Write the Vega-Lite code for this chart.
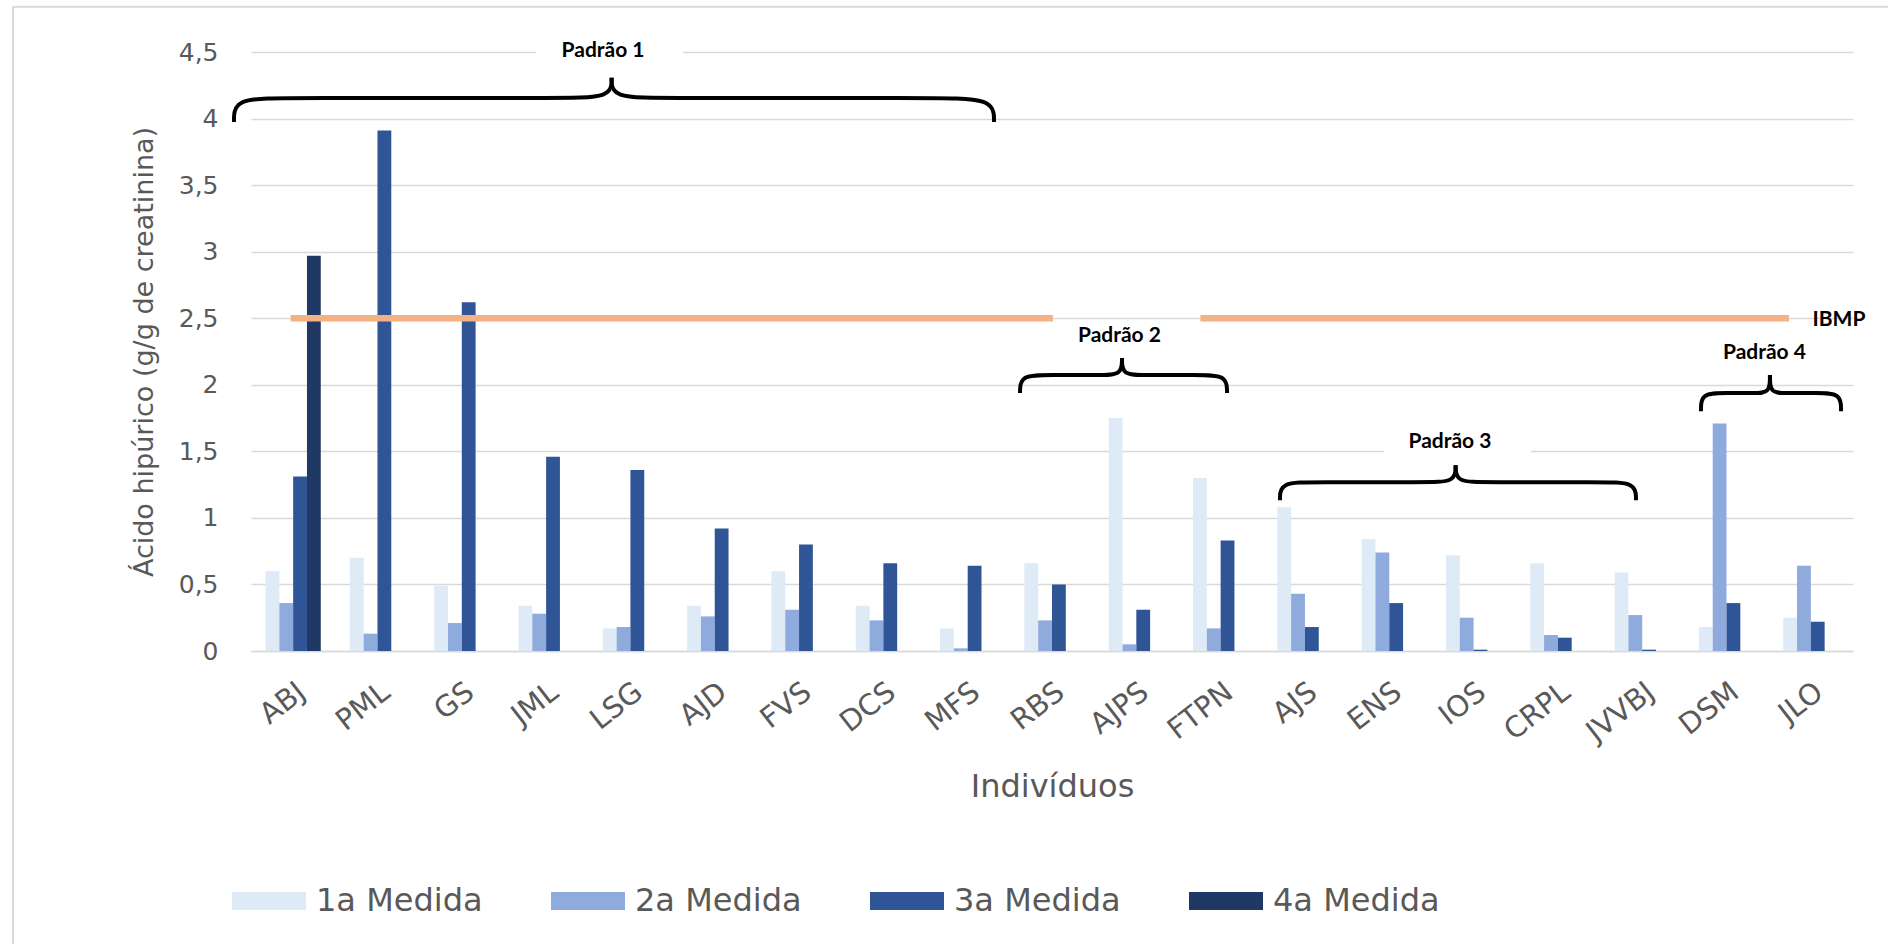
{
  "$schema": "https://vega.github.io/schema/vega-lite/v6.json",
  "autosize": {"type": "none"},
  "width": 1602,
  "height": 599,
  "padding": {"left": 251, "top": 52, "right": 35, "bottom": 293},
  "background": "white",
  "config": {
    "view": {"stroke": null},
    "font": "DejaVu Sans"
  },
  "datasets": {
    "bars": [
      {"ind": "ABJ", "medida": "1a Medida", "valor": 0.60},
      {"ind": "ABJ", "medida": "2a Medida", "valor": 0.36},
      {"ind": "ABJ", "medida": "3a Medida", "valor": 1.31},
      {"ind": "ABJ", "medida": "4a Medida", "valor": 2.97},
      {"ind": "PML", "medida": "1a Medida", "valor": 0.70},
      {"ind": "PML", "medida": "2a Medida", "valor": 0.13},
      {"ind": "PML", "medida": "3a Medida", "valor": 3.91},
      {"ind": "GS", "medida": "1a Medida", "valor": 0.49},
      {"ind": "GS", "medida": "2a Medida", "valor": 0.21},
      {"ind": "GS", "medida": "3a Medida", "valor": 2.62},
      {"ind": "JML", "medida": "1a Medida", "valor": 0.34},
      {"ind": "JML", "medida": "2a Medida", "valor": 0.28},
      {"ind": "JML", "medida": "3a Medida", "valor": 1.46},
      {"ind": "LSG", "medida": "1a Medida", "valor": 0.17},
      {"ind": "LSG", "medida": "2a Medida", "valor": 0.18},
      {"ind": "LSG", "medida": "3a Medida", "valor": 1.36},
      {"ind": "AJD", "medida": "1a Medida", "valor": 0.34},
      {"ind": "AJD", "medida": "2a Medida", "valor": 0.26},
      {"ind": "AJD", "medida": "3a Medida", "valor": 0.92},
      {"ind": "FVS", "medida": "1a Medida", "valor": 0.60},
      {"ind": "FVS", "medida": "2a Medida", "valor": 0.31},
      {"ind": "FVS", "medida": "3a Medida", "valor": 0.80},
      {"ind": "DCS", "medida": "1a Medida", "valor": 0.34},
      {"ind": "DCS", "medida": "2a Medida", "valor": 0.23},
      {"ind": "DCS", "medida": "3a Medida", "valor": 0.66},
      {"ind": "MFS", "medida": "1a Medida", "valor": 0.17},
      {"ind": "MFS", "medida": "2a Medida", "valor": 0.02},
      {"ind": "MFS", "medida": "3a Medida", "valor": 0.64},
      {"ind": "RBS", "medida": "1a Medida", "valor": 0.66},
      {"ind": "RBS", "medida": "2a Medida", "valor": 0.23},
      {"ind": "RBS", "medida": "3a Medida", "valor": 0.50},
      {"ind": "AJPS", "medida": "1a Medida", "valor": 1.75},
      {"ind": "AJPS", "medida": "2a Medida", "valor": 0.05},
      {"ind": "AJPS", "medida": "3a Medida", "valor": 0.31},
      {"ind": "FTPN", "medida": "1a Medida", "valor": 1.30},
      {"ind": "FTPN", "medida": "2a Medida", "valor": 0.17},
      {"ind": "FTPN", "medida": "3a Medida", "valor": 0.83},
      {"ind": "AJS", "medida": "1a Medida", "valor": 1.08},
      {"ind": "AJS", "medida": "2a Medida", "valor": 0.43},
      {"ind": "AJS", "medida": "3a Medida", "valor": 0.18},
      {"ind": "ENS", "medida": "1a Medida", "valor": 0.84},
      {"ind": "ENS", "medida": "2a Medida", "valor": 0.74},
      {"ind": "ENS", "medida": "3a Medida", "valor": 0.36},
      {"ind": "IOS", "medida": "1a Medida", "valor": 0.72},
      {"ind": "IOS", "medida": "2a Medida", "valor": 0.25},
      {"ind": "IOS", "medida": "3a Medida", "valor": 0.01},
      {"ind": "CRPL", "medida": "1a Medida", "valor": 0.66},
      {"ind": "CRPL", "medida": "2a Medida", "valor": 0.12},
      {"ind": "CRPL", "medida": "3a Medida", "valor": 0.10},
      {"ind": "JVVBJ", "medida": "1a Medida", "valor": 0.59},
      {"ind": "JVVBJ", "medida": "2a Medida", "valor": 0.27},
      {"ind": "JVVBJ", "medida": "3a Medida", "valor": 0.01},
      {"ind": "DSM", "medida": "1a Medida", "valor": 0.18},
      {"ind": "DSM", "medida": "2a Medida", "valor": 1.71},
      {"ind": "DSM", "medida": "3a Medida", "valor": 0.36},
      {"ind": "JLO", "medida": "1a Medida", "valor": 0.25},
      {"ind": "JLO", "medida": "2a Medida", "valor": 0.64},
      {"ind": "JLO", "medida": "3a Medida", "valor": 0.22}
    ],
    "braces": [
      {"id": "p1a", "k": 0, "bx": -0.202, "by": 3.975},
      {"id": "p1a", "k": 1, "bx": -0.202, "by": 4.155},
      {"id": "p1a", "k": 2, "bx": 0.463, "by": 4.155},
      {"id": "p1a", "k": 3, "bx": 3.665, "by": 4.155},
      {"id": "p1a", "k": 4, "bx": 4.277, "by": 4.155},
      {"id": "p1a", "k": 5, "bx": 4.277, "by": 4.306},
      {"id": "p1b", "k": 0, "bx": 8.812, "by": 3.975},
      {"id": "p1b", "k": 1, "bx": 8.812, "by": 4.155},
      {"id": "p1b", "k": 2, "bx": 8.053, "by": 4.155},
      {"id": "p1b", "k": 3, "bx": 4.910, "by": 4.155},
      {"id": "p1b", "k": 4, "bx": 4.277, "by": 4.155},
      {"id": "p1b", "k": 5, "bx": 4.277, "by": 4.306},
      {"id": "p2a", "k": 0, "bx": 9.121, "by": 1.938},
      {"id": "p2a", "k": 1, "bx": 9.121, "by": 2.073},
      {"id": "p2a", "k": 2, "bx": 9.476, "by": 2.073},
      {"id": "p2a", "k": 3, "bx": 10.069, "by": 2.073},
      {"id": "p2a", "k": 4, "bx": 10.330, "by": 2.073},
      {"id": "p2a", "k": 5, "bx": 10.330, "by": 2.201},
      {"id": "p2b", "k": 0, "bx": 11.576, "by": 1.938},
      {"id": "p2b", "k": 1, "bx": 11.576, "by": 2.073},
      {"id": "p2b", "k": 2, "bx": 11.220, "by": 2.073},
      {"id": "p2b", "k": 3, "bx": 10.591, "by": 2.073},
      {"id": "p2b", "k": 4, "bx": 10.330, "by": 2.073},
      {"id": "p2b", "k": 5, "bx": 10.330, "by": 2.201},
      {"id": "p3a", "k": 0, "bx": 12.204, "by": 1.133},
      {"id": "p3a", "k": 1, "bx": 12.204, "by": 1.268},
      {"id": "p3a", "k": 2, "bx": 12.619, "by": 1.268},
      {"id": "p3a", "k": 3, "bx": 13.924, "by": 1.268},
      {"id": "p3a", "k": 4, "bx": 14.287, "by": 1.268},
      {"id": "p3a", "k": 5, "bx": 14.287, "by": 1.396},
      {"id": "p3b", "k": 0, "bx": 16.426, "by": 1.133},
      {"id": "p3b", "k": 1, "bx": 16.426, "by": 1.268},
      {"id": "p3b", "k": 2, "bx": 16.011, "by": 1.268},
      {"id": "p3b", "k": 3, "bx": 14.647, "by": 1.268},
      {"id": "p3b", "k": 4, "bx": 14.287, "by": 1.268},
      {"id": "p3b", "k": 5, "bx": 14.287, "by": 1.396},
      {"id": "p4a", "k": 0, "bx": 17.197, "by": 1.802},
      {"id": "p4a", "k": 1, "bx": 17.197, "by": 1.938},
      {"id": "p4a", "k": 2, "bx": 17.481, "by": 1.938},
      {"id": "p4a", "k": 3, "bx": 17.837, "by": 1.938},
      {"id": "p4a", "k": 4, "bx": 18.015, "by": 1.938},
      {"id": "p4a", "k": 5, "bx": 18.015, "by": 2.073},
      {"id": "p4b", "k": 0, "bx": 18.858, "by": 1.802},
      {"id": "p4b", "k": 1, "bx": 18.858, "by": 1.938},
      {"id": "p4b", "k": 2, "bx": 18.573, "by": 1.938},
      {"id": "p4b", "k": 3, "bx": 18.193, "by": 1.938},
      {"id": "p4b", "k": 4, "bx": 18.015, "by": 1.938},
      {"id": "p4b", "k": 5, "bx": 18.015, "by": 2.073}
    ]
  },
  "resolve": {"scale": {"x": "independent"}},
  "layer": [
    {
      "data": {"name": "bars"},
      "mark": {"type": "bar"},
      "encoding": {
        "x": {
          "field": "ind", "type": "nominal", "sort": null,
          "scale": {"paddingInner": 0.345, "paddingOuter": 0.1725},
          "axis": {
            "title": "Indivíduos",
            "domain": true, "domainColor": "#D9D9D9", "domainWidth": 1.5,
            "ticks": false, "grid": false,
            "labelAngle": -38, "labelFont": "DejaVu Sans", "labelFontSize": 29,
            "labelColor": "#595959", "labelPadding": 26,
            "titleFont": "DejaVu Sans", "titleFontSize": 32, "titleFontWeight": "normal",
            "titleColor": "#595959", "titlePadding": 24
          }
        },
        "xOffset": {"field": "medida", "type": "nominal", "scale": {"paddingInner": 0, "paddingOuter": 0}},
        "y": {
          "field": "valor", "type": "quantitative",
          "scale": {"domain": [0, 4.5], "nice": false, "zero": true},
          "axis": {
            "title": "Ácido hipúrico (g/g de creatinina)",
            "values": [0, 0.5, 1, 1.5, 2, 2.5, 3, 3.5, 4, 4.5],
            "labelExpr": "replace(toString(datum.value), '.', ',')",
            "domain": false, "ticks": false,
            "grid": true, "gridColor": "#D9D9D9", "gridWidth": 1.5,
            "labelFont": "DejaVu Sans", "labelFontSize": 25, "labelColor": "#595959", "labelPadding": 33,
            "titleFont": "DejaVu Sans", "titleFontSize": 27, "titleFontWeight": "normal",
            "titleColor": "#595959", "titlePadding": 20
          }
        },
        "color": {
          "field": "medida", "type": "nominal",
          "scale": {"domain": ["1a Medida", "2a Medida", "3a Medida", "4a Medida"], "range": ["#DEEBF7", "#8FAADC", "#2F5597", "#203864"]},
          "legend": {
            "orient": "none", "legendX": -19, "legendY": 812,
            "direction": "horizontal", "columns": 4, "title": null,
            "symbolType": "M-1,-0.243H1V0.243H-1Z", "symbolSize": 5476, "symbolStrokeWidth": 0,
            "labelFont": "DejaVu Sans", "labelFontSize": 32, "labelColor": "#595959", "labelLimit": 400,
            "labelOffset": 10, "columnPadding": 68, "padding": 0
          }
        }
      }
    },
    {
      "data": {"values": [{}]},
      "layer": [
        {
          "mark": {"type": "rule", "color": "#D9D9D9", "strokeWidth": 2},
          "encoding": {
            "x": {"datum": -2.823, "type": "quantitative", "scale": {"domain": [0, 19], "nice": false, "zero": false}, "axis": null},
            "x2": {"datum": 19.8},
            "y": {"datum": 4.84, "type": "quantitative", "scale": {"domain": [0, 4.5], "nice": false}}
          }
        },
        {
          "mark": {"type": "rule", "color": "#D9D9D9", "strokeWidth": 2},
          "encoding": {
            "x": {"datum": -2.823, "type": "quantitative"},
            "y": {"datum": 4.84, "type": "quantitative"},
            "y2": {"datum": -2.4}
          }
        },
        {
          "mark": {"type": "rule", "color": "white", "strokeWidth": 4},
          "encoding": {
            "x": {"datum": 3.38, "type": "quantitative"},
            "x2": {"datum": 5.125},
            "y": {"datum": 4.5, "type": "quantitative"}
          }
        },
        {
          "mark": {"type": "rule", "color": "white", "strokeWidth": 4},
          "encoding": {
            "x": {"datum": 13.44, "type": "quantitative"},
            "x2": {"datum": 15.18},
            "y": {"datum": 1.5, "type": "quantitative"}
          }
        },
        {
          "mark": {"type": "rule", "color": "#F4B183", "strokeWidth": 6.5},
          "encoding": {
            "x": {"datum": 0.47, "type": "quantitative"},
            "x2": {"datum": 9.51},
            "y": {"datum": 2.5, "type": "quantitative"}
          }
        },
        {
          "mark": {"type": "rule", "color": "#F4B183", "strokeWidth": 6.5},
          "encoding": {
            "x": {"datum": 11.26, "type": "quantitative"},
            "x2": {"datum": 18.24},
            "y": {"datum": 2.5, "type": "quantitative"}
          }
        },
        {
          "data": {"name": "braces"},
          "mark": {"type": "line", "interpolate": "basis", "color": "black", "strokeWidth": 4, "strokeCap": "butt"},
          "encoding": {
            "x": {"field": "bx", "type": "quantitative"},
            "y": {"field": "by", "type": "quantitative"},
            "detail": {"field": "id", "type": "nominal"},
            "order": {"field": "k", "type": "quantitative"}
          }
        },
        {
          "mark": {"type": "text", "text": "Padrão 1", "font": "Lato", "fontWeight": "bold", "fontSize": 21, "color": "black", "align": "center", "baseline": "alphabetic"},
          "encoding": {"x": {"datum": 4.175, "type": "quantitative"}, "y": {"datum": 4.464, "type": "quantitative"}}
        },
        {
          "mark": {"type": "text", "text": "Padrão 2", "font": "Lato", "fontWeight": "bold", "fontSize": 21, "color": "black", "align": "center", "baseline": "alphabetic"},
          "encoding": {"x": {"datum": 10.30, "type": "quantitative"}, "y": {"datum": 2.321, "type": "quantitative"}}
        },
        {
          "mark": {"type": "text", "text": "Padrão 3", "font": "Lato", "fontWeight": "bold", "fontSize": 21, "color": "black", "align": "center", "baseline": "alphabetic"},
          "encoding": {"x": {"datum": 14.22, "type": "quantitative"}, "y": {"datum": 1.524, "type": "quantitative"}}
        },
        {
          "mark": {"type": "text", "text": "Padrão 4", "font": "Lato", "fontWeight": "bold", "fontSize": 21, "color": "black", "align": "center", "baseline": "alphabetic"},
          "encoding": {"x": {"datum": 17.95, "type": "quantitative"}, "y": {"datum": 2.193, "type": "quantitative"}}
        },
        {
          "mark": {"type": "text", "text": "IBMP", "font": "Lato", "fontWeight": "bold", "fontSize": 21, "color": "black", "align": "left", "baseline": "alphabetic"},
          "encoding": {"x": {"datum": 18.52, "type": "quantitative"}, "y": {"datum": 2.44, "type": "quantitative"}}
        }
      ]
    }
  ]
}
